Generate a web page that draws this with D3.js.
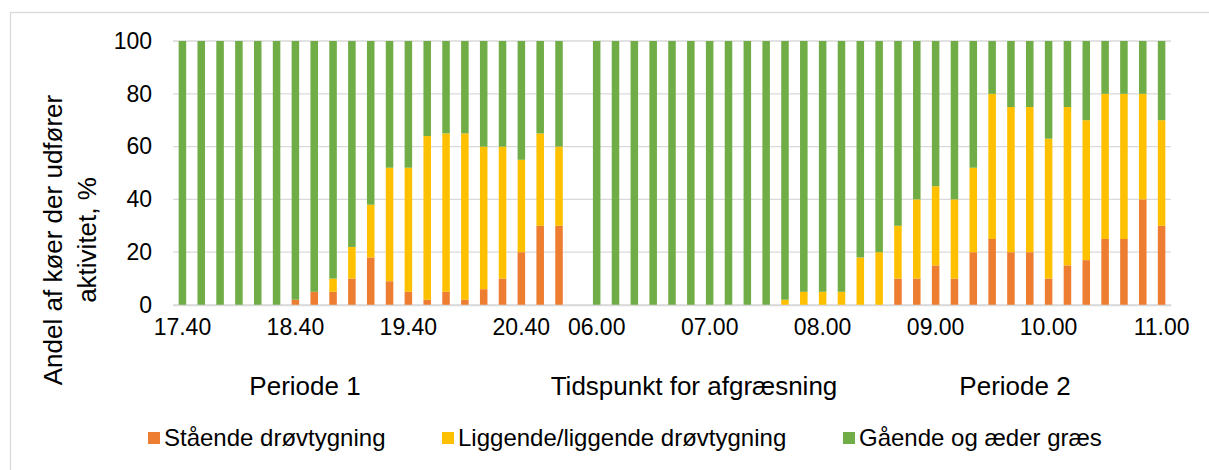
<!DOCTYPE html>
<html lang="da">
<head>
<meta charset="UTF-8">
<title>Andel af køer der udfører aktivitet</title>
<script src="https://d3js.org/d3.v7.min.js"></script>
<style>
    body { margin: 0; background: #fff; }
    svg { font-family: Arial, "Liberation Sans", sans-serif; display: block; }
    .grid line { stroke: #d9d9d9; stroke-width: 1.3px; }
    .axis text { fill: #000; }
</style>
</head>
<body>
<div id="chart"></div>
<script>
// categories (10 min intervals), Periode 1 then Periode 2
const periode1 = [
    "17.40","17.50","18.00","18.10","18.20","18.30","18.40","18.50","19.00","19.10",
    "19.20","19.30","19.40","19.50","20.00","20.10","20.20","20.30","20.40","20.50","21.00"
];
const periode2 = [
    "06.00","06.10","06.20","06.30","06.40","06.50","07.00","07.10","07.20","07.30",
    "07.40","07.50","08.00","08.10","08.20","08.30","08.40","08.50","09.00","09.10",
    "09.20","09.30","09.40","09.50","10.00","10.10","10.20","10.30","10.40","10.50","11.00"
];
const categories = periode1.concat(periode2);
const xTickLabels = ["17.40","18.40","19.40","20.40","06.00","07.00","08.00","09.00","10.00","11.00"];
const yTicks = [0, 20, 40, 60, 80, 100];

const seriesNames = ["Stående drøvtygning", "Liggende/liggende drøvtygning", "Gående og æder græs"];
const seriesColors = ["#ed7d31", "#ffc000", "#70ad47"];

const staaende = [
    0,0,0,0,0,0,2,5,5,10,18,9,5,2,5,2,6,10,20,30,30,
    0,0,0,0,0,0,0,0,0,0,0,0,0,0,0,0,10,10,15,10,20,25,20,20,10,15,17,25,25,40,30
];
const liggende = [
    0,0,0,0,0,0,0,0,5,12,20,43,47,62,60,63,54,50,35,35,30,
    0,0,0,0,0,0,0,0,0,0,2,5,5,5,18,20,20,30,30,30,32,55,55,55,53,60,53,55,55,40,40
];
const gaaende = [
    100,100,100,100,100,100,98,95,90,78,62,48,48,36,35,35,40,40,45,35,40,
    100,100,100,100,100,100,100,100,100,100,98,95,95,95,82,80,70,60,55,60,48,20,25,25,37,25,30,20,20,20,30
];

const width = 1209, height = 470;
const margin = {left: 173, right: 38, top: 41, bottom: 165};
const plotW = width - margin.left - margin.right;
const plotH = height - margin.top - margin.bottom;

const svg = d3.select("#chart").append("svg")
    .attr("width", width)
    .attr("height", height);

// chart frame
svg.append("rect")
    .attr("x", 10.5).attr("y", 12.5)
    .attr("width", 1210).attr("height", 470)
    .attr("fill", "none")
    .attr("stroke", "#d9d9d9")
    .attr("stroke-width", 1.3);

const rows = categories.map((c, i) => ({
    cat: c, s0: staaende[i], s1: liggende[i], s2: gaaende[i]
}));
const keys = ["s0", "s1", "s2"];
const stacked = d3.stack().keys(keys)(rows);

// empty slot between the two periods
const xDomain = periode1.concat([""], periode2);

const x = d3.scaleBand()
    .domain(xDomain)
    .range([0, plotW])
    .paddingInner(0.6)
    .paddingOuter(0.3);

const y = d3.scaleLinear().domain([0, 100]).range([plotH, 0]);

const g = svg.append("g").attr("transform", `translate(${margin.left},${margin.top})`);

// gridlines
g.append("g").attr("class", "grid")
    .selectAll("line")
    .data(yTicks)
    .enter().append("line")
    .attr("x1", 0).attr("x2", plotW)
    .attr("y1", d => y(d)).attr("y2", d => y(d));

// bars
g.append("g").selectAll("g")
    .data(stacked)
    .enter().append("g")
    .attr("fill", (d, i) => seriesColors[i])
    .selectAll("rect")
    .data(d => d)
    .enter().append("rect")
    .attr("x", d => x(d.data.cat))
    .attr("width", x.bandwidth())
    .attr("y", d => y(d[1]))
    .attr("height", d => y(d[0]) - y(d[1]));

// y axis
const yAxis = g.append("g").attr("class", "axis")
    .call(d3.axisLeft(y).tickValues(yTicks).tickSize(0).tickPadding(21));
yAxis.select(".domain").remove();
yAxis.selectAll("text").attr("font-size", 23).attr("font-family", "Arial, 'Liberation Sans', sans-serif");

// x axis
const xAxis = g.append("g").attr("class", "axis")
    .attr("transform", `translate(0,${plotH})`)
    .call(d3.axisBottom(x).tickValues(xTickLabels).tickSize(0).tickPadding(14));
xAxis.select(".domain").attr("stroke", "#d9d9d9").attr("stroke-width", 1.3);
xAxis.selectAll("text").attr("font-size", 23).attr("font-family", "Arial, 'Liberation Sans', sans-serif");

// group labels under the axis
const groupLabels = [
    {text: "Periode 1", x: 305},
    {text: "Tidspunkt for afgræsning", x: 694},
    {text: "Periode 2", x: 1015}
];
svg.append("g").selectAll("text")
    .data(groupLabels)
    .enter().append("text")
    .attr("x", d => d.x)
    .attr("y", 395)
    .attr("text-anchor", "middle")
    .attr("font-size", 26)
    .text(d => d.text);

// y axis title, two lines
const yTitle = ["Andel af køer der udfører", "aktivitet, %"];
svg.append("g").selectAll("text")
    .data(yTitle)
    .enter().append("text")
    .attr("transform", (d, i) => `translate(${62 + i * 34},240) rotate(-90)`)
    .attr("text-anchor", "middle")
    .attr("font-size", 26)
    .text(d => d);

// legend
const legendX = [148, 442, 843];
const legend = svg.append("g").selectAll("g")
    .data(seriesNames)
    .enter().append("g")
    .attr("transform", (d, i) => `translate(${legendX[i]},432)`);
legend.append("rect")
    .attr("width", 12).attr("height", 12)
    .attr("fill", (d, i) => seriesColors[i]);
legend.append("text")
    .attr("x", 16).attr("y", 14)
    .attr("font-size", 24)
    .text(d => d);
</script>
</body>
</html>
